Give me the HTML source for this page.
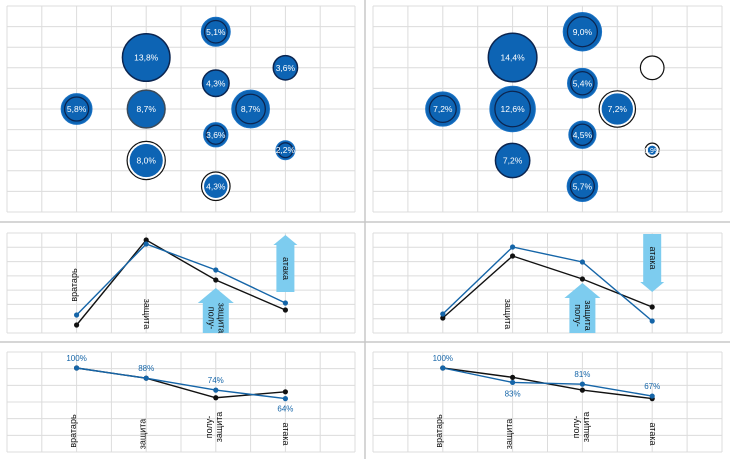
<!DOCTYPE html>
<html><head><meta charset="utf-8">
<style>
html,body{margin:0;padding:0;background:#fff;}
svg{display:block;font-family:"Liberation Sans","DejaVu Sans",sans-serif;}
</style></head>
<body>
<svg id="s" width="730" height="459" viewBox="0 0 730 459" xmlns="http://www.w3.org/2000/svg">
<rect x="0" y="0" width="730" height="459" fill="#fff"/>
<line x1="365" y1="0" x2="365" y2="459" stroke="#c8c8c8" stroke-width="1.5"/>
<line x1="0" y1="222" x2="730" y2="222" stroke="#c8c8c8" stroke-width="1.5"/>
<line x1="0" y1="342" x2="730" y2="342" stroke="#c8c8c8" stroke-width="1.5"/>
<g id="g"></g>
</svg>
<script>
// ---- bubble data (grid column, grid row, percent) ----
const bubbleColsL = [6, 4, 8, 6, 2, 4, 7, 6, 8, 4, 6];
const bubbleRowsL = [1.25, 2.5, 3, 3.75, 5, 5, 5, 6.25, 7, 7.5, 8.75];
const bubbleValsL = [5.1, 13.8, 3.6, 4.3, 5.8, 8.7, 8.7, 3.6, 2.2, 8.0, 4.3];
const bubbleLabelsL = ["5,1%","13,8%","3,6%","4,3%","5,8%","8,7%","8,7%","3,6%","2,2%","8,0%","4,3%"];
const bubbleStyleL = ["ring","dark","dark","dark","ring","gray","ring","ring","ring","white","white"];

const bubbleColsR = [6, 4, 8, 6, 2, 4, 7, 6, 8, 4, 6];
const bubbleRowsR = [1.25, 2.5, 3, 3.75, 5, 5, 5, 6.25, 7, 7.5, 8.75];
const bubbleValsR = [9.0, 14.4, 3.4, 5.4, 7.2, 12.6, 7.2, 4.5, 0.9, 7.2, 5.7];
const bubbleLabelsR = ["9,0%","14,4%","","5,4%","7,2%","12,6%","7,2%","4,5%","0,9%","7,2%","5,7%"];
const bubbleStyleR = ["ring","dark","empty","ring","ring","ring","white","ring","white","dark","ring"];

// ---- line charts ----
const categories = ["вратарь","защита","полу-защита","атака"];
const midBlueL = [18, 89, 63, 30];
const midBlackL = [8, 93, 53, 23];
const midBlueR = [19, 86, 71, 12];
const midBlackR = [15, 77, 54, 26];

const botBlueL = [100, 88, 74, 64];
const botBlackL = [100, 88, 65, 72];
const botBlueR = [100, 83, 81, 67];
const botBlackR = [100, 89, 74, 64];
const botLabelsL = ["100%","88%","74%","64%"];
const botLabelsR = ["100%","83%","81%","67%"];

const NS = "http://www.w3.org/2000/svg";
const G = document.getElementById("g");
function el(tag, attrs, parent){ const e=document.createElementNS(NS,tag); for(const k in attrs) e.setAttribute(k,attrs[k]); (parent||G).appendChild(e); return e; }

const panels = [{x0:7,x1:355},{x0:373,x1:722}];
function xCol(p, c){ return panels[p].x0 + c*(panels[p].x1-panels[p].x0)/10; }
function yRow(r){ return 6 + r*(212-6)/10; }
function rBub(v){ return 6.4*Math.sqrt(v); }
function xCat(p, i){ return xCol(p, 2 + i*2); }
function yMid(v){ return 333 - v*(333-233)/100; }
function yBot(v){ return 368 + (100 - v)*0.85; }

function grid(p, y0, y1, rows, name){
  const gg = el("g", {});
  
  
  const x0=panels[p].x0, x1=panels[p].x1;
  for(let i=0;i<=10;i++){ const x=x0+i*(x1-x0)/10; el("line",{x1:x,y1:y0,x2:x,y2:y1,stroke:"#dcdcdc","stroke-width":1},gg); }
  for(let j=0;j<=rows;j++){ const y=y0+j*(y1-y0)/rows; el("line",{x1:x0,y1:y,x2:x1,y2:y,stroke:"#dcdcdc","stroke-width":1},gg); }
}

function bubbles(p, cols, rows, vals, labels, styles){
  grid(p, 6, 212, 10, p? "bubble-grid-right":"bubble-grid-left");
  for(let i=0;i<vals.length;i++){
    const cx=xCol(p,cols[i]), cy=yRow(rows[i]), r=rBub(vals[i]), st=styles[i];
    const gg=el("g",{});
    
    
    if(st==="empty"){
      el("circle",{cx:cx,cy:cy,r:r,fill:"#fff",stroke:"#111","stroke-width":1.2},gg);
      continue;
    }
    if(st==="white"){
      el("circle",{cx:cx,cy:cy,r:r+1,fill:"#fff",stroke:"#111","stroke-width":1.2},gg);
      el("circle",{cx:cx,cy:cy,r:r-1.5,fill:"#0d64b4"},gg);
    } else {
      el("circle",{cx:cx,cy:cy,r:r,fill:"#0d64b4",stroke: st==="dark"?"#0b2550":(st==="gray"?"#3a4a5a":"#1a72c4"),"stroke-width":st==="ring"?1:1.5},gg);
      if(st==="ring") el("circle",{cx:cx,cy:cy,r:r*0.78,fill:"none",stroke:"#0b2550","stroke-width":1.3},gg);
    }
    if(labels[i]){
      const t=el("text",{x:cx,y:cy+3,"text-anchor":"middle","font-size":vals[i]<1.5?7:8.5,fill:"#fff"},gg);
      t.textContent=labels[i];
    }
  }
}
bubbles(0,bubbleColsL,bubbleRowsL,bubbleValsL,bubbleLabelsL,bubbleStyleL);
bubbles(1,bubbleColsR,bubbleRowsR,bubbleValsR,bubbleLabelsR,bubbleStyleR);

function arrow(cx, tipY, baseY, dir, name, lines){
  const gg=el("g",{});
  
  
  const sw = lines.length>1?13:9, hw=lines.length>1?18:12, hh=lines.length>1?15:10;
  let d;
  if(dir==="up") d=`M${cx},${tipY} L${cx+hw},${tipY+hh} L${cx+sw},${tipY+hh} L${cx+sw},${baseY} L${cx-sw},${baseY} L${cx-sw},${tipY+hh} L${cx-hw},${tipY+hh} Z`;
  else d=`M${cx},${tipY} L${cx+hw},${tipY-hh} L${cx+sw},${tipY-hh} L${cx+sw},${baseY} L${cx-sw},${baseY} L${cx-sw},${tipY-hh} L${cx-hw},${tipY-hh} Z`;
  el("path",{d:d,fill:"#7dccef"},gg);
  const my = dir==="up" ? (tipY+hh+baseY)/2 : (baseY+tipY-hh)/2;
  lines.forEach((ln,k)=>{
    const x = cx + (k - (lines.length-1)/2)*10;
    const t=el("text",{x:x,y:my,"text-anchor":"middle","font-size":9,fill:"#111",transform:`rotate(90 ${x} ${my})`,"dominant-baseline":"middle"},gg);
    t.textContent=ln;
  });
}

function catLabel(x, y, txt, rot, name, size){
  const t=el("text",{x:x,y:y,"text-anchor":"middle","font-size":size||9,fill:"#111","dominant-baseline":"middle",transform:`rotate(${rot} ${x} ${y})`});
  
  
  t.textContent=txt;
  return t;
}

function series(p, vals, yf, color, name){
  const gg=el("g",{});
  
  
  const pts=vals.map((v,i)=>[xCat(p,i),yf(v)]);
  el("polyline",{points:pts.map(q=>q.join(",")).join(" "),fill:"none",stroke:color,"stroke-width":1.4},gg);
  pts.forEach(q=>el("circle",{cx:q[0],cy:q[1],r:2.6,fill:color},gg));
}

// middle charts
grid(0,233,333,7,"mid-grid-left");
grid(1,233,333,7,"mid-grid-right");
catLabel(xCat(0,0)-2, 285, "вратарь", -90, "mid-label-goalkeeper-left");
catLabel(xCat(0,1), 314, "защита", 90, "mid-label-defense-left");
catLabel(xCat(1,1)-5, 314, "защита", 90, "mid-label-defense-right");
arrow(xCat(0,2), 288, 333, "up", "arrow-midfield-left", ["полу-","защита"]);
arrow(xCat(0,3), 235, 292, "up", "arrow-attack-left", ["атака"]);
arrow(xCat(1,2), 283, 333, "up", "arrow-midfield-right", ["полу-","защита"]);
arrow(xCat(1,3), 292, 234, "down", "arrow-attack-right", ["атака"]);
series(0, midBlackL, yMid, "#111", "mid-black-left");
series(0, midBlueL, yMid, "#1565a8", "mid-blue-left");
series(1, midBlackR, yMid, "#111", "mid-black-right");
series(1, midBlueR, yMid, "#1565a8", "mid-blue-right");

// bottom charts
grid(0,352,452,6,"bot-grid-left");
grid(1,352,452,6,"bot-grid-right");
series(0, botBlackL, yBot, "#111", "bot-black-left");
series(0, botBlueL, yBot, "#1565a8", "bot-blue-left");
series(1, botBlackR, yBot, "#111", "bot-black-right");
series(1, botBlueR, yBot, "#1565a8", "bot-blue-right");
const offL=[-10,-10,-10,10], offR=[-10,11,-10,-10];
function valLabels(p, vals, labels, off){
  vals.forEach((v,i)=>{
    const t=el("text",{x:xCat(p,i),y:yBot(v)+off[i]+3,"text-anchor":"middle","font-size":8,fill:"#1565a8"});
    
    
    t.textContent=labels[i];
  });
}
valLabels(0, botBlueL, botLabelsL, offL);
valLabels(1, botBlueR, botLabelsR, offR);
for(let p=0;p<2;p++){
  const s=p?'right':'left';
  catLabel(xCat(p,0)-3, 431, "вратарь", -90, "bot-label-goalkeeper-"+s);
  catLabel(xCat(p,1)-3, 434, "защита", -90, "bot-label-defense-"+s);
  catLabel(xCat(p,2)-6, 427, "полу-", -90, "bot-label-midfield1-"+s);
  catLabel(xCat(p,2)+4, 427, "защита", -90, "bot-label-midfield2-"+s);
  catLabel(xCat(p,3), 434, "атака", 90, "bot-label-attack-"+s);
}
</script>
</body></html>
